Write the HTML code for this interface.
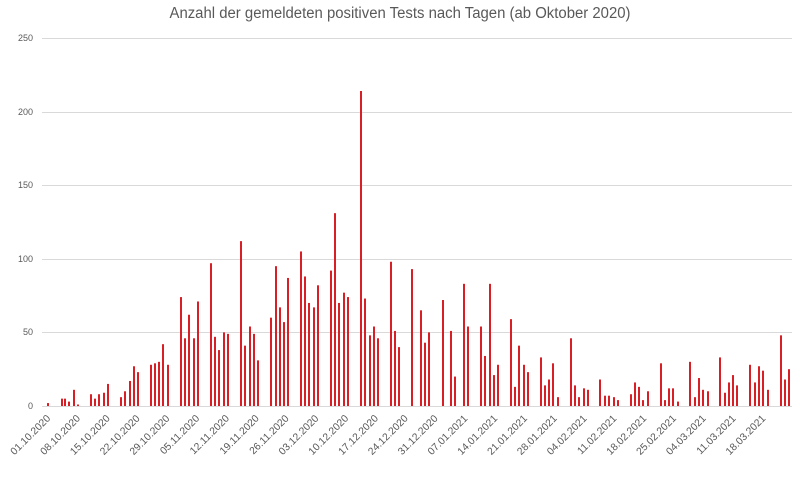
<!DOCTYPE html>
<html><head><meta charset="utf-8"><style>
html,body{margin:0;padding:0;background:#fff;}
svg{display:block;font-family:"Liberation Sans",sans-serif;}
</style></head><body>
<svg width="800" height="494" viewBox="0 0 800 494" xmlns="http://www.w3.org/2000/svg">
<text x="400" y="18" text-anchor="middle" font-size="15.5" fill="#595959" textLength="461" lengthAdjust="spacingAndGlyphs">Anzahl der gemeldeten positiven Tests nach Tagen (ab Oktober 2020)</text>
<g stroke="#d9d9d9" stroke-width="1">
<line x1="42" x2="792" y1="38.5" y2="38.5"/>
<line x1="42" x2="792" y1="112.5" y2="112.5"/>
<line x1="42" x2="792" y1="185.5" y2="185.5"/>
<line x1="42" x2="792" y1="259.5" y2="259.5"/>
<line x1="42" x2="792" y1="332.5" y2="332.5"/>
<line x1="42" x2="792" y1="406.5" y2="406.5"/>
</g>
<g font-size="9" fill="#595959" text-anchor="end">
<text x="33" y="41">250</text><text x="33" y="115">200</text><text x="33" y="188">150</text>
<text x="33" y="262">100</text><text x="33" y="335">50</text><text x="33" y="409">0</text>
</g>
<g id="bars" fill="#d91f26"></g>
<g id="labels" font-size="10.3" fill="#595959" text-anchor="end"></g>
<script>
var d=[[48,2],[62,5],[65,5],[69,3],[74,11],[78,1],[91,8],[95,5],[99,8],[104,9],[108,15],[121,6],[125,10],[130,17],[134,27],[138,23],[151,28],[155,29],[159,30],[163,42],[168,28],[181,74],[185,46],[189,62],[194,46],[198,71],[211,97],[215,47],[219,38],[224,50],[228,49],[241,112],[245,41],[250,54],[254,49],[258,31],
[271,60],[276,95],[280,67],[284,57],[288,87],[301,105],[305,88],[309,70],[314,67],[318,82],[331,92],[335,131],[339,70],[344,77],[348,74],[361,214],[365,73],[370,48],[374,54],[378,46],[391,98],[395,51],[399,40],[412,93],[421,65],[425,43],[429,50],[443,72],[451,51],[455,20],[464,83],[468,54],[481,54],[485,34],[490,83],[494,21],[498,28],[511,59],[515,13],[519,41],[524,28],[528,23],
[541,33],[545,14],[549,18],[553,29],[558,6],[571,46],[575,14],[579,6],[584,12],[588,11],[600,18],[605,7],[609,7],[614,6],[618,4],[631,8],[635,16],[639,13],[643,4],[648,10],[661,29],[665,4],[669,12],[673,12],[678,3],[690,30],[695,6],[699,19],[703,11],[708,10],[720,33],[725,9],[729,16],[733,21],[737,14],[750,28],[755,16],[759,27],[763,24],[768,11],[781,48],[785,18],[789,25]];
var ns="http://www.w3.org/2000/svg",b=document.getElementById("bars");
d.forEach(function(p){var r=document.createElementNS(ns,"rect");var h=p[1]*1.472;r.setAttribute("x",p[0]-1);r.setAttribute("y",406-h);r.setAttribute("width",2);r.setAttribute("height",h);b.appendChild(r);});
var L=["01.10.2020","08.10.2020","15.10.2020","22.10.2020","29.10.2020","05.11.2020","12.11.2020","19.11.2020","26.11.2020","03.12.2020","10.12.2020","17.12.2020","24.12.2020","31.12.2020","07.01.2021","14.01.2021","21.01.2021","28.01.2021","04.02.2021","11.02.2021","18.02.2021","25.02.2021","04.03.2021","11.03.2021","18.03.2021"];
var g=document.getElementById("labels");
L.forEach(function(s,k){var x=51+k*29.8,y=419;var t=document.createElementNS(ns,"text");t.setAttribute("x",x);t.setAttribute("y",y);t.setAttribute("transform","rotate(-45 "+x+" "+y+")");t.textContent=s;g.appendChild(t);});
</script>
</svg>
</body></html>
